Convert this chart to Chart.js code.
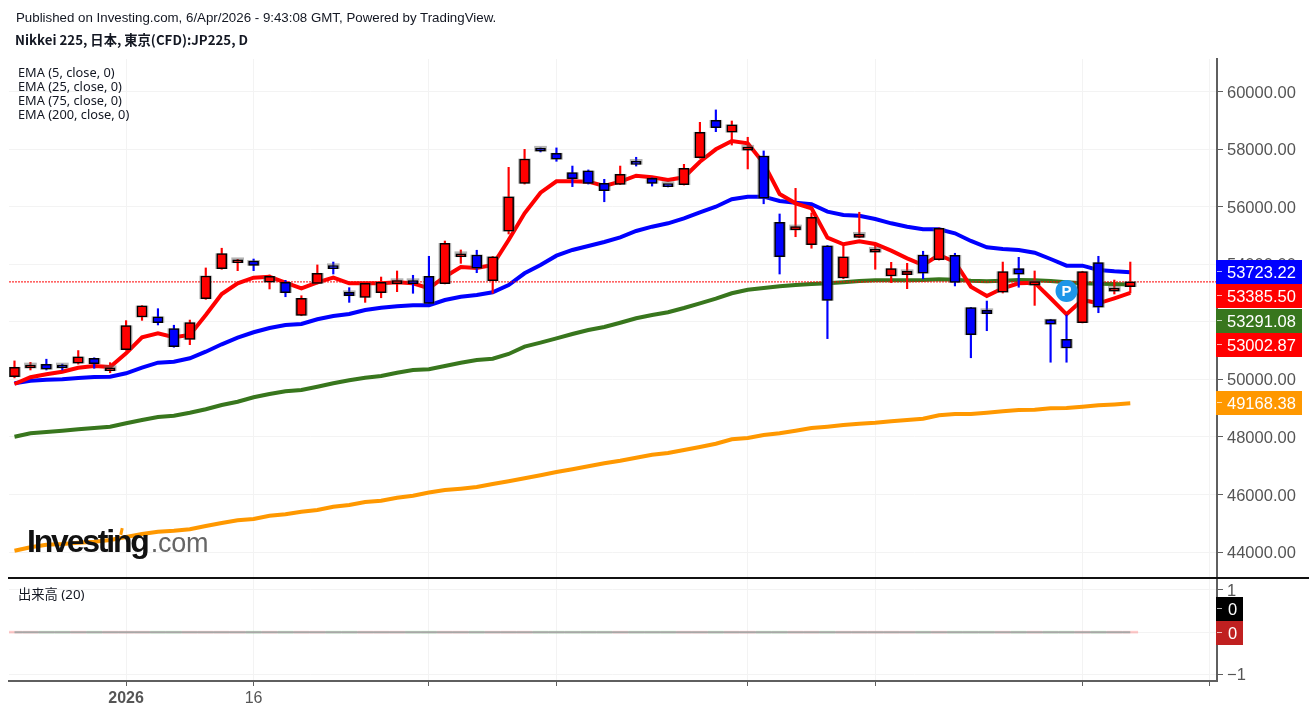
<!DOCTYPE html>
<html>
<head>
<meta charset="utf-8">
<title>Nikkei 225</title>
<script src="https://cdn.jsdelivr.net/npm/chart.js@4"></script>
<style>
  html, body { margin: 0; padding: 0; background: #fff; overflow: hidden; }
  #page { position: relative; width: 1309px; height: 714px; }
  canvas { position: absolute; left: 0; }
  .txt { position: absolute; color: #131722; white-space: nowrap; font: 13.3px "Liberation Sans", sans-serif; }
  #title2 { font: bold 13.3px "Noto Sans CJK JP", "Noto Sans", sans-serif; }
  .legend { font: 12.8px "Noto Sans", "Noto Sans CJK JP", sans-serif; line-height: 14px; }
  #vollabel { font-size: 13.3px; }
  #logo { position: absolute; left: 27px; top: 523px; font: bold 32px "Liberation Sans", sans-serif; letter-spacing: -2.2px; color: #111; white-space: nowrap; }
  #logo span { font: 27px "Liberation Sans", sans-serif; letter-spacing: -0.2px; color: #666; margin-left: 3px; }
  #logotick { position: absolute; left: 120px; top: 528px; width: 3px; height: 7px; background: #ff9800; transform: rotate(12deg); }
  #split { position: absolute; left: 8px; top: 577px; width: 1301px; height: 2px; background: #111; }
</style>
</head>
<body>
<div id="page">
  <canvas id="main" width="1309" height="578" style="top:0"></canvas>
  <canvas id="vol" width="1309" height="136" style="top:578px"></canvas>
  <div class="txt" style="left:16px;top:10px">Published on Investing.com, 6/Apr/2026 - 9:43:08 GMT, Powered by TradingView.</div>
  <div class="txt" id="title2" style="left:15px;top:30px">Nikkei 225, 日本, 東京(CFD):JP225, D</div>
  <div class="txt legend" style="left:18px;top:65px">EMA (5, close, 0)</div>
  <div class="txt legend" style="left:18px;top:79px">EMA (25, close, 0)</div>
  <div class="txt legend" style="left:18px;top:93px">EMA (75, close, 0)</div>
  <div class="txt legend" style="left:18px;top:107px">EMA (200, close, 0)</div>
  <div class="txt legend" id="vollabel" style="left:18px;top:587px">出来高 (20)</div>
  <div id="logo">Investing<span>.com</span></div>
  <div id="logotick"></div>
  <div id="split"></div>
</div>
<script>
// daily candles
const opens = [50090,50395,50520,50490,50560,50730,50300,51030,52165,52175,51760,51390,52800,53845,54050,54110,53380,53370,52225,53335,53915,53025,52850,53010,53325,53430,53580,53325,54260,54320,53430,55145,56810,57970,57855,57180,57240,56810,56775,57505,56985,56730,56765,57700,59000,58585,57960,57760,55455,55190,54680,54635,53520,54935,54415,53590,53635,54320,54155,54310,52490,52400,53025,53845,53270,52075,51390,51970,54055,53060,53220];
const highs = [50640,50590,50700,50530,51000,50750,50580,52040,52560,52455,51880,52060,53870,54555,54170,54180,53625,53440,52905,53975,54075,53185,53350,53555,53765,53615,54275,54805,54495,54485,54270,57365,57990,58040,58040,57410,57275,56950,57410,57715,57000,56735,57470,58930,59360,58975,58410,57935,55745,56635,55780,54650,54635,55805,54700,54065,54030,54450,55260,54380,52500,52720,54075,54240,53765,52085,52235,53750,54275,53450,54075];
const lows = [50050,50325,50325,50325,50530,50385,50230,51010,52050,51890,51115,51205,52780,53825,53775,53775,53140,52870,52210,53315,53660,52675,52675,52835,53045,52990,52620,53315,54030,53705,52990,55050,56785,57900,57575,56695,56785,56170,56765,57410,56715,56685,56750,57680,58605,58140,57310,56100,53660,54955,54555,51415,53495,54920,53825,53360,53150,53495,54145,53245,50750,51690,53000,53200,52570,50595,50595,51960,52315,52965,53000];
const closes = [50420,50420,50350,50395,50780,50545,50370,51865,52550,51970,51135,51970,53590,54365,54100,53960,53580,53010,52815,53685,53845,52905,53335,53370,53405,53325,52640,54725,54320,53860,54260,56345,57655,57925,57645,56970,56810,56555,57125,57470,56810,56695,57330,58585,58745,58845,58070,56290,54260,55305,55630,52745,54260,55050,54470,53845,53755,53685,55250,53370,51550,52280,53740,53650,53395,51915,51090,53740,52505,53130,53385.5];

// moving averages
const ema5 = [49839,50072,50176,50266,50405,50464,50429,50905,51461,51600,51461,51541,52236,52965,53337,53532,53566,53358,53163,53372,53532,53337,53337,53337,53372,53337,53163,53566,53903,53869,53973,54841,55769,56485,56881,56881,56867,56717,56867,57075,57020,56926,57020,57561,57992,58281,58201,57506,56439,56116,55943,54921,54692,54796,54702,54470,54205,53973,54320,54077,53219,52896,53163,53337,53358,52816,52260,52757,52642,52816,53002.87];
const ema25 = [49863,49953,49988,50002,50047,50082,50093,50211,50405,50579,50614,50732,50961,51218,51447,51635,51784,51889,51923,52086,52201,52271,52410,52489,52538,52573,52573,52757,52872,52931,53024,53278,53684,53973,54296,54494,54633,54772,54935,55154,55304,55421,55595,55804,55998,56255,56346,56346,56196,56137,56082,55825,55710,55686,55571,55421,55304,55213,55213,55074,54807,54588,54529,54494,54400,54181,53949,53949,53799,53754,53723.22];
const ema75 = [48008,48126,48171,48217,48265,48310,48356,48474,48588,48692,48738,48842,48960,49109,49224,49377,49491,49585,49630,49745,49863,49967,50058,50117,50232,50325,50349,50464,50579,50673,50718,50881,51135,51274,51426,51576,51715,51819,51968,52121,52236,52330,52479,52642,52802,52990,53115,53174,53233,53278,53313,53337,53372,53417,53441,53441,53441,53452,53476,53463,53428,53407,53428,53452,53441,53417,53372,53337,53323,53313,53291.08];
const ema200 = [44048,44166,44256,44280,44325,44360,44419,44523,44628,44708,44743,44791,44906,45010,45104,45149,45264,45312,45403,45462,45577,45635,45740,45785,45889,45959,46070,46156,46202,46260,46365,46459,46563,46667,46782,46875,46979,47084,47174,47279,47383,47442,47546,47650,47765,47918,47963,48067,48126,48217,48310,48356,48414,48460,48494,48543,48588,48634,48752,48797,48797,48842,48891,48936,48946,48995,49006,49051,49100,49130,49168.38];

// volume pane is empty on this symbol
const volumes = closes.map(() => 0);
const volumeMa = closes.map(() => 0);

const priceTicks = [44000,46000,48000,50000,52000,54000,56000,58000,60000];
const volTicks = [-1,0,1];
const xTickIdx = [7,15,26,34,46,54,67,75];
const xTickLabels = ['2026','16','','','','','',''];

const lastPrice = 53385.5;
const pMarkerIdx = 66;
const pMarkerValue = 53070;

const RED = '#ff0000', BLUE = '#0000ff', GREEN = '#38761d', ORANGE = '#ff9800';
const GRID = '#f3f3f3', AXIS = '#5f5f5f', FONT = '"Liberation Sans", sans-serif';
const X_MIN = -0.345, X_MAX = 75.44;

function isUp(i) { return closes[i] >= opens[i]; }
function pts(arr) { return arr.map((v, i) => ({ x: i, y: v })); }
function emaSet(label, arr, color, order) {
  return { type: 'line', label, data: pts(arr), borderColor: color, borderWidth: 4, pointRadius: 0, tension: 0, order };
}
function candleSet(label, lo, hi, w, bg, extra, order) {
  return Object.assign({ type: 'bar', label, data: lo.map((v, i) => ({ x: i, y: [v, hi[i]] })), barThickness: w,
    backgroundColor: bg, grouped: false, borderSkipped: false, order }, extra);
}
const dirColor = ctx => isUp(ctx.dataIndex) ? RED : BLUE;

function noPad(s) { s.paddingLeft = s.paddingRight = s.paddingTop = s.paddingBottom = 0; }

function xScale(showTicks) {
  return {
    type: 'linear', min: X_MIN, max: X_MAX, offset: false,
    afterBuildTicks: s => { s.ticks = xTickIdx.map(v => ({ value: v })); },
    afterFit: s => { s.height = showTicks ? 33 : 0; noPad(s); },
    border: { display: showTicks, color: AXIS, width: 2 },
    grid: { offset: false, color: GRID, drawTicks: showTicks, tickLength: 5, tickColor: AXIS },
    ticks: {
      display: showTicks, autoSkip: false, maxRotation: 0, padding: 3, color: '#555',
      font: ctx => ({ family: FONT, size: 16, weight: ctx.tick && ctx.tick.value === 7 ? 'bold' : 'normal' }),
      callback: v => xTickLabels[xTickIdx.indexOf(v)] || ''
    }
  };
}
function yScale(min, max, ticks, fmt) {
  return {
    position: 'right', min, max,
    afterBuildTicks: s => { s.ticks = ticks.map(v => ({ value: v })); },
    afterFit: s => { s.width = 92; noPad(s); },
    border: { color: AXIS, width: 2 },
    grid: { color: GRID, tickLength: 6, tickColor: AXIS },
    ticks: { padding: 4, labelOffset: 1.5, color: '#555', font: { family: FONT, size: 16.5 }, callback: fmt, autoSkip: false }
  };
}

// price boxes on the right, shifted so they do not sit on each other
function tagPlugin(tags, boxW) {
  return {
    id: 'tags',
    afterDraw(chart) {
      const c = chart.ctx, sc = chart.scales.y;
      c.save();
      c.font = '16.5px ' + FONT;
      c.textBaseline = 'middle';
      tags.forEach(t => {
        const y = Math.round(sc.getPixelForValue(t.value)) + t.shift;
        c.fillStyle = t.color;
        c.fillRect(1216, y - 12, boxW, 24);
        c.fillStyle = 'rgba(255,255,255,0.7)';
        c.fillRect(1217, y - 1, 5, 1);
        c.fillStyle = '#fff';
        c.textAlign = t.align;
        c.fillText(t.text, t.align === 'left' ? 1227 : 1216 + boxW / 2 + 3, y + 1);
      });
      c.restore();
    }
  };
}

const pLetter = {
  id: 'pLetter',
  afterDatasetsDraw(chart) {
    const c = chart.ctx;
    c.save();
    c.fillStyle = '#fff';
    c.font = 'bold 15px ' + FONT;
    c.textAlign = 'center';
    c.textBaseline = 'middle';
    c.fillText('P', chart.scales.x.getPixelForValue(pMarkerIdx), chart.scales.y.getPixelForValue(pMarkerValue) + 1);
    c.restore();
  }
};

new Chart(document.getElementById('main'), {
  type: 'bar',
  data: {
    datasets: [
      { type: 'line', label: 'P', data: [{ x: pMarkerIdx, y: pMarkerValue }], showLine: false, pointRadius: 11, pointBackgroundColor: '#1e96e8', pointBorderWidth: 0, order: -1 },
      candleSet('body', opens, closes, 10, dirColor, { borderColor: '#000', borderWidth: 1.5, minBarLength: 3 }, 0),
      candleSet('halo', opens, closes, 12, 'rgba(90,90,90,0.45)', { minBarLength: 5 }, 1),
      candleSet('wick', lows, highs, 1.5, dirColor, {}, 2),
      { type: 'line', label: 'last', data: [{ x: X_MIN, y: lastPrice }, { x: X_MAX, y: lastPrice }], borderColor: RED, backgroundColor: RED, borderWidth: 1, borderDash: [2, 1], pointRadius: 0, order: 3 },
      emaSet('EMA 5', ema5, RED, 4),
      emaSet('EMA 25', ema25, BLUE, 5),
      emaSet('EMA 75', ema75, GREEN, 6),
      emaSet('EMA 200', ema200, ORANGE, 7)
    ]
  },
  options: {
    responsive: false, animation: false,
    layout: { autoPadding: false, padding: { left: 9, top: 59, right: 0, bottom: 0 } },
    plugins: { legend: { display: false }, tooltip: { enabled: false } },
    scales: { x: xScale(false), y: yScale(43099, 61129, priceTicks, v => v.toFixed(2)) }
  },
  plugins: [pLetter, tagPlugin([
    { value: ema25[70], text: '53723.22', color: BLUE, shift: 0, align: 'left' },
    { value: lastPrice, text: '53385.50', color: RED, shift: 14, align: 'left' },
    { value: ema75[70], text: '53291.08', color: GREEN, shift: 36, align: 'left' },
    { value: ema5[70], text: '53002.87', color: RED, shift: 52, align: 'left' },
    { value: ema200[70], text: '49168.38', color: ORANGE, shift: 0, align: 'left' }
  ], 86)]
});

new Chart(document.getElementById('vol'), {
  type: 'bar',
  data: {
    datasets: [
      { type: 'line', label: 'Vol MA', data: pts(volumeMa), borderColor: '#a8a8a8', borderWidth: 2, pointRadius: 0, order: 0 },
      { type: 'bar', label: 'Vol', data: pts(volumes), barThickness: 15, minBarLength: 2, grouped: false,
        backgroundColor: ctx => isUp(ctx.dataIndex) ? 'rgba(255,0,0,0.2)' : 'rgba(0,170,0,0.22)', order: 1 }
    ]
  },
  options: {
    responsive: false, animation: false,
    layout: { autoPadding: false, padding: { left: 9, top: 0, right: 0, bottom: 0 } },
    plugins: { legend: { display: false }, tooltip: { enabled: false } },
    scales: { x: xScale(true), y: yScale(-1.159, 1.284, volTicks, v => v === -1 ? '−1' : String(v)) }
  },
  plugins: [tagPlugin([
    { value: 0, text: '0', color: '#000', shift: -23, align: 'center' },
    { value: 0, text: '0', color: '#c02020', shift: 1, align: 'center' }
  ], 27)]
});
</script>
</body>
</html>
